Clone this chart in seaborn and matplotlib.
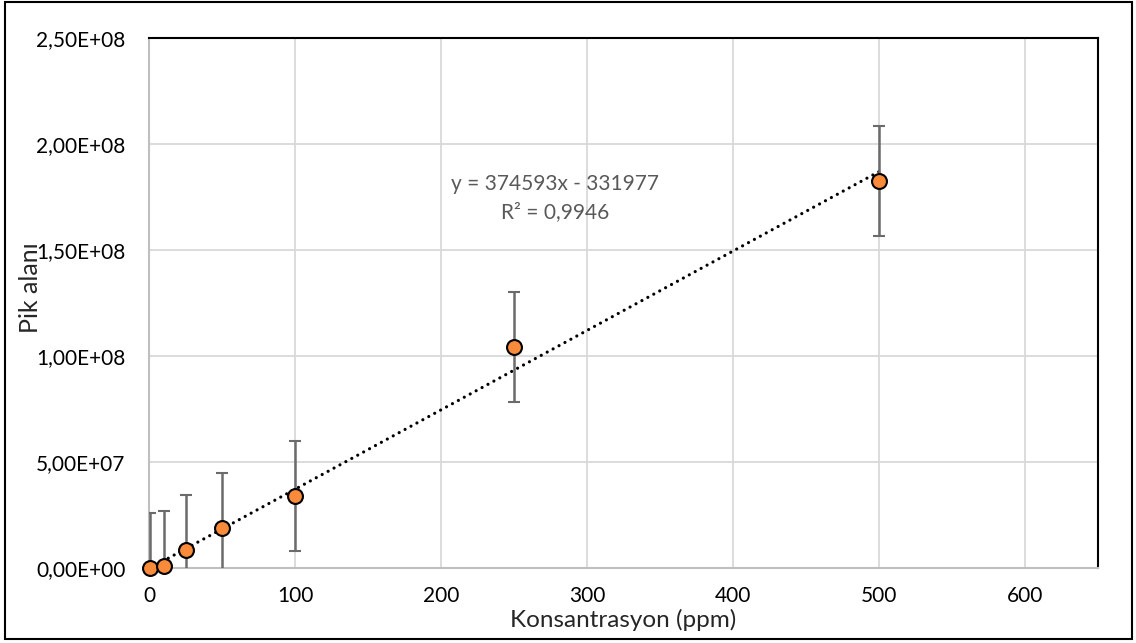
import numpy as np
import pandas as pd
import seaborn as sns
import matplotlib.pyplot as plt
from matplotlib.ticker import FuncFormatter, MultipleLocator
from matplotlib.patches import Rectangle

# data
konsantrasyon = [1, 10, 25, 50, 100, 250, 500]
pik_alani = [0.0, 1.1e6, 8.5e6, 1.9e7, 3.4e7, 1.042e8, 1.825e8]
hata = [2.6e7, 2.6e7, 2.58e7, 2.57e7, 2.6e7, 2.6e7, 2.6e7]

# Excel trendline
egim = 374593
kesisim = -331977
r2_text = "R² = 0,9946"

df = pd.DataFrame({"x": konsantrasyon, "y": pik_alani, "err": hata})

sns.set_theme(style="white")
plt.rcParams['font.family'] = ['Lato', 'DejaVu Sans']

fig = plt.figure(figsize=(11.36, 6.43), dpi=100)
ax = fig.add_axes([149 / 1136, 75 / 643, (1098 - 149) / 1136, (568 - 38) / 643])

ax.grid(True, color="#d9d9d9", linewidth=1.3)
ax.set_axisbelow(True)

# trendline (dotted)
xt = np.array([min(konsantrasyon), max(konsantrasyon)])
ax.plot(xt, egim * xt + kesisim, linestyle=(0, (0.01, 2.1)), color="black",
        linewidth=2.3, dash_capstyle="round", zorder=2)

ax.errorbar(df["x"], df["y"], yerr=df["err"], fmt="none", ecolor="#6b6b6b",
            elinewidth=1.8, capsize=4.5, capthick=1.5, zorder=3)

sns.scatterplot(data=df, x="x", y="y", ax=ax, s=115, color="#f98b3a",
                edgecolor="black", linewidth=1.5, zorder=4, clip_on=False)

ax.set_xlim(0, 650)
ax.set_ylim(0, 2.5e8)
ax.xaxis.set_major_locator(MultipleLocator(100))
ax.yaxis.set_major_locator(MultipleLocator(5e7))
ax.set_xticks([0, 100, 200, 300, 400, 500, 600])


def sci_fmt(v, pos):
    s = "{:.2E}".format(v)
    return s.replace(".", ",")


ax.yaxis.set_major_formatter(FuncFormatter(sci_fmt))
ax.tick_params(axis="both", length=0, labelsize=15, colors="black")
ax.tick_params(axis="y", pad=17)
ax.tick_params(axis="x", pad=13)

for side in ["top", "right"]:
    ax.spines[side].set_color("black")
    ax.spines[side].set_linewidth(1.5)
for side in ["left", "bottom"]:
    ax.spines[side].set_color("#bfbfbf")
    ax.spines[side].set_linewidth(1.5)

ax.set_xlabel("")
ax.set_ylabel("")
fig.text(623 / 1136, 1 - 620 / 643, "Konsantrasyon (ppm)", ha="center", va="center", fontsize=17.5)
fig.text(30 / 1136, 1 - 288 / 643, "Pik alanı", ha="center", va="center", fontsize=18, rotation=90)

ax.text(278, 1.745e8, "y = {}x - {}\n{}".format(egim, -kesisim, r2_text),
        ha="center", va="center", fontsize=15, color="#595959", linespacing=1.45)

fig.patches.append(Rectangle((5 / 1136, 4 / 643), 1127 / 1136, 637 / 643, transform=fig.transFigure,
                             fill=False, edgecolor="black", linewidth=1.5))

fig.savefig("out.png", dpi=100)
